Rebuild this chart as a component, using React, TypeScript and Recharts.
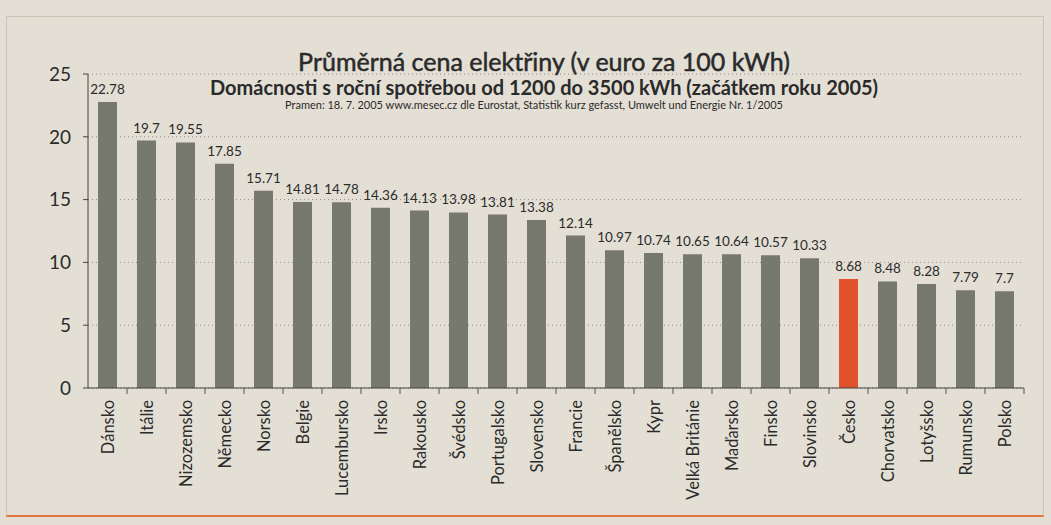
import { BarChart, Bar, XAxis, YAxis, CartesianGrid, Cell, LabelList } from 'recharts'

const countries = [
  'Dánsko', 'Itálie', 'Nizozemsko', 'Německo', 'Norsko', 'Belgie', 'Lucembursko', 'Irsko',
  'Rakousko', 'Švédsko', 'Portugalsko', 'Slovensko', 'Francie', 'Španělsko', 'Kypr',
  'Velká Británie', 'Maďarsko', 'Finsko', 'Slovinsko', 'Česko', 'Chorvatsko', 'Lotyšsko',
  'Rumunsko', 'Polsko',
]
const prices = [
  22.78, 19.7, 19.55, 17.85, 15.71, 14.81, 14.78, 14.36, 14.13, 13.98, 13.81, 13.38, 12.14,
  10.97, 10.74, 10.65, 10.64, 10.57, 10.33, 8.68, 8.48, 8.28, 7.79, 7.7,
]
const highlight = 'Česko'
const yTicks = [0, 5, 10, 15, 20, 25]

const font = 'Lato, "Noto Sans", sans-serif'
const band = 39

const data = countries.map((name, i) => ({ name, value: prices[i] }))

function CountryTick({ x, y, payload }: any) {
  return (
    <g>
      <line x1={x + band / 2} y1={y - 8} x2={x + band / 2} y2={y - 2} stroke="#555" strokeWidth={1} />
      <text
        x={x}
        y={y + 4}
        transform={`rotate(-90, ${x}, ${y + 4})`}
        textAnchor="end"
        dominantBaseline="central"
        fontSize={16.5}
        fill="#2b2b2b"
        fontFamily={font}
      >
        {payload.value}
      </text>
    </g>
  )
}

export default function App() {
  return (
    <div
      style={{
        position: 'absolute',
        left: 0,
        top: 0,
        width: 1051,
        height: 525,
        background: '#e4dfd5',
        fontFamily: font,
        overflow: 'hidden',
      }}
    >
      <div style={{ position: 'absolute', left: 6, top: 16, width: 1036, height: 498, border: '1px solid #c9c3b8', borderBottom: '2px solid #e2733a' }} />
      <BarChart
        width={1051}
        height={525}
        data={data}
        margin={{ top: 74, right: 27, bottom: 7, left: 40 }}
        barSize={19}
        style={{ position: 'absolute', left: 0, top: 0 }}
      >
        <CartesianGrid vertical={false} stroke="#8f8b82" strokeDasharray="1 3" />
        <XAxis
          dataKey="name"
          interval={0}
          height={130}
          tick={<CountryTick />}
          tickLine={false}
          axisLine={{ stroke: '#444' }}
        />
        <YAxis
          domain={[0, 25]}
          ticks={yTicks}
          width={48}
          tick={{ fontSize: 19, fill: '#2b2b2b', fontFamily: font, dx: -10 }}
          tickLine={{ stroke: '#444' }}
          tickSize={5}
          axisLine={{ stroke: '#444' }}
        />
        <Bar dataKey="value" isAnimationActive={false}>
          {data.map((d) => (
            <Cell key={d.name} fill={d.name === highlight ? '#e0522c' : '#77796c'} />
          ))}
          <LabelList dataKey="value" position="top" offset={8} fontSize={13.5} fill="#2b2b2b" fontFamily={font} />
        </Bar>
      </BarChart>
      <div style={{ position: 'absolute', left: 0, width: 1088, top: 46, textAlign: 'center', color: '#2a2a2a' }}>
        <div style={{ fontSize: 25, lineHeight: '30px', WebkitTextStroke: '0.5px #2a2a2a' }}>
          Průměrná cena elektřiny (v euro za 100 kWh)
        </div>
        <div style={{ fontSize: 20, fontWeight: 700, lineHeight: '22px' }}>
          Domácnosti s roční spotřebou od 1200 do 3500 kWh (začátkem roku 2005)
        </div>
        <div style={{ fontSize: 11, lineHeight: '13px', marginLeft: -20 }}>
          Pramen: 18. 7. 2005 www.mesec.cz dle Eurostat, Statistik kurz gefasst, Umwelt und Energie Nr. 1/2005
        </div>
      </div>
    </div>
  )
}
